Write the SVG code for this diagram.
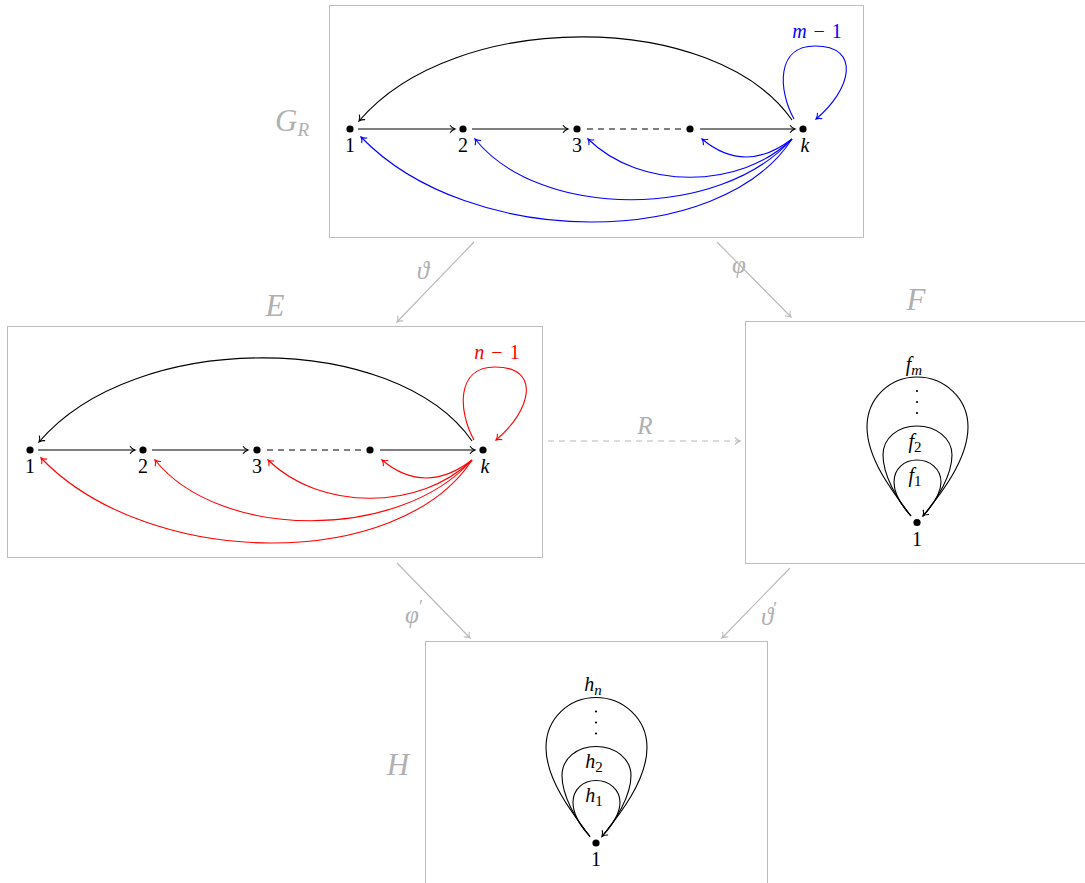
<svg xmlns="http://www.w3.org/2000/svg" width="1085" height="883" viewBox="0 0 1085 883">
<style>
.box{fill:none;stroke:#bdbdbd;stroke-width:1}
.t{font-family:"Liberation Serif","DejaVu Serif",serif;font-size:20px;text-anchor:middle;fill:#000}
.i{font-style:italic}
.g{fill:#b0b0b0;font-size:31px;font-style:italic}
.gs{fill:#b0b0b0;font-size:25px;font-style:italic}
.e{fill:none;stroke:#000;stroke-width:1.1}
.blue{stroke:#0000ff}
.red{stroke:#ff0000}
.gray{fill:none;stroke:#b8b8b8;stroke-width:1.1}
.dash{stroke-dasharray:6,5}
.dot{fill:#000}
</style>
<defs>
<marker id="ab" viewBox="-6 -5 8 10" refX="0" refY="0" markerWidth="8" markerHeight="10" markerUnits="userSpaceOnUse" orient="auto"><path d="M-5,-3.8 C-3.5,-1.6 -1.2,-0.4 0,0 C-1.2,0.4 -3.5,1.6 -5,3.8" fill="none" stroke="#000" stroke-width="1.1"/></marker>
<marker id="abl" viewBox="-6 -5 8 10" refX="0" refY="0" markerWidth="8" markerHeight="10" markerUnits="userSpaceOnUse" orient="auto"><path d="M-5,-3.8 C-3.5,-1.6 -1.2,-0.4 0,0 C-1.2,0.4 -3.5,1.6 -5,3.8" fill="none" stroke="#0000ff" stroke-width="1.1"/></marker>
<marker id="ar" viewBox="-6 -5 8 10" refX="0" refY="0" markerWidth="8" markerHeight="10" markerUnits="userSpaceOnUse" orient="auto"><path d="M-5,-3.8 C-3.5,-1.6 -1.2,-0.4 0,0 C-1.2,0.4 -3.5,1.6 -5,3.8" fill="none" stroke="#ff0000" stroke-width="1.1"/></marker>
<marker id="ag" viewBox="-6 -5 8 10" refX="0" refY="0" markerWidth="8" markerHeight="10" markerUnits="userSpaceOnUse" orient="auto"><path d="M-5,-3.8 C-3.5,-1.6 -1.2,-0.4 0,0 C-1.2,0.4 -3.5,1.6 -5,3.8" fill="none" stroke="#b8b8b8" stroke-width="1.1"/></marker>
</defs>
<rect width="1085" height="883" fill="#fff"/>

<!-- Box G_R -->
<g id="box-GR">
<rect class="box" x="329.5" y="5.5" width="534" height="232"/>
<text class="t g" x="292" y="131">G<tspan font-size="19" dy="5">R</tspan></text>
<g id="GR-n1"><circle class="dot" cx="350" cy="129" r="3.6"/><text class="t" x="350" y="152">1</text></g>
<g id="GR-n2"><circle class="dot" cx="463" cy="129" r="3.6"/><text class="t" x="463" y="152">2</text></g>
<g id="GR-n3"><circle class="dot" cx="577" cy="129" r="3.6"/><text class="t" x="577" y="152">3</text></g>
<g id="GR-n4"><circle class="dot" cx="690" cy="129" r="3.6"/></g>
<g id="GR-nk"><circle class="dot" cx="803" cy="129" r="3.6"/><text class="t i" x="805" y="152">k</text></g>
<text class="t" x="817" y="38" style="fill:#0000ff"><tspan class="i">m</tspan> <tspan dx="2">−</tspan> <tspan dx="2">1</tspan></text>
</g>

<!-- Box E -->
<g id="box-E">
<rect class="box" x="7.5" y="326.5" width="535" height="231"/>
<text class="t g" x="275" y="316">E</text>
<g id="E-n1"><circle class="dot" cx="30" cy="450" r="3.6"/><text class="t" x="30" y="473">1</text></g>
<g id="E-n2"><circle class="dot" cx="143" cy="450" r="3.6"/><text class="t" x="143" y="473">2</text></g>
<g id="E-n3"><circle class="dot" cx="257" cy="450" r="3.6"/><text class="t" x="257" y="473">3</text></g>
<g id="E-n4"><circle class="dot" cx="370" cy="450" r="3.6"/></g>
<g id="E-nk"><circle class="dot" cx="483" cy="450" r="3.6"/><text class="t i" x="485" y="473">k</text></g>
<text class="t" x="497" y="359" style="fill:#ff0000"><tspan class="i">n</tspan> <tspan dx="2">−</tspan> <tspan dx="2">1</tspan></text>
</g>

<!-- Box F -->
<g id="box-F">
<rect class="box" x="745.5" y="321.5" width="345" height="242"/>
<text class="t g" x="916" y="310">F</text>
<g id="F-n1"><circle class="dot" cx="917" cy="522.5" r="3.6"/><text class="t" x="917" y="546">1</text></g>
<text class="t i" x="914" y="371">f<tspan font-size="15" dy="4" font-style="italic">m</tspan></text>
<circle class="dot" cx="917" cy="391" r="1.1"/><circle class="dot" cx="917" cy="402" r="1.1"/><circle class="dot" cx="917" cy="413" r="1.1"/>
<text class="t i" x="915" y="448">f<tspan font-size="15" dy="4" font-style="normal">2</tspan></text>
<text class="t i" x="915" y="482">f<tspan font-size="15" dy="4" font-style="normal">1</tspan></text>
</g>

<!-- Box H -->
<g id="box-H">
<rect class="box" x="425.5" y="641.5" width="342" height="250"/>
<text class="t g" x="398" y="775">H</text>
<g id="H-n1"><circle class="dot" cx="596" cy="843" r="3.6"/><text class="t" x="596" y="866">1</text></g>
<text class="t i" x="593" y="691">h<tspan font-size="15" dy="4" font-style="italic">n</tspan></text>
<circle class="dot" cx="596" cy="711.5" r="1.1"/><circle class="dot" cx="596" cy="722.5" r="1.1"/><circle class="dot" cx="596" cy="733.5" r="1.1"/>
<text class="t i" x="594" y="768">h<tspan font-size="15" dy="4" font-style="normal">2</tspan></text>
<text class="t i" x="594" y="802">h<tspan font-size="15" dy="4" font-style="normal">1</tspan></text>
</g>

<!-- Map labels -->
<g id="map-labels">
<text class="t gs" x="423" y="279">ϑ</text>
<text class="t gs" x="739" y="273">φ</text>
<text class="t gs" x="645" y="434" font-style="italic">R</text>
<text class="t gs" x="414" y="623">φ<tspan font-size="18" dy="-10" font-style="normal">′</tspan></text>
<text class="t gs" x="769" y="625">ϑ<tspan font-size="18" dy="-10" font-style="normal">′</tspan></text>
</g>

<g id="connectors">
<!-- G_R -->
<path class="e" d="M358,129 L455,129" marker-end="url(#ab)"/>
<path class="e" d="M472,129 L568,129" marker-end="url(#ab)"/>
<path class="e dash" d="M587,129 L682,129"/>
<path class="e" d="M700,129 L795,129" marker-end="url(#ab)"/>
<path class="e" d="M792,120 C715,10 455,8 359,121" marker-end="url(#ab)"/>
<path class="e blue" d="M794,119 C778,90 776,46 815,46 C862,46 851,90 816,119" marker-end="url(#abl)"/>
<path class="e blue" d="M792,139 Q745,175 702,139" marker-end="url(#abl)"/>
<path class="e blue" d="M792,139 C740,190 640,190 588,139" marker-end="url(#abl)"/>
<path class="e blue" d="M792,139 C720,220 540,220 475,139" marker-end="url(#abl)"/>
<path class="e blue" d="M792,139 C720,250 470,250 361,137" marker-end="url(#abl)"/>
<!-- E -->
<g transform="translate(-320,321)">
<path class="e" d="M358,129 L455,129" marker-end="url(#ab)"/>
<path class="e" d="M472,129 L568,129" marker-end="url(#ab)"/>
<path class="e dash" d="M587,129 L682,129"/>
<path class="e" d="M700,129 L795,129" marker-end="url(#ab)"/>
<path class="e" d="M792,120 C715,10 455,8 359,121" marker-end="url(#ab)"/>
<path class="e red" d="M794,119 C778,90 776,46 815,46 C862,46 851,90 816,119" marker-end="url(#ar)"/>
<path class="e red" d="M792,139 Q745,175 702,139" marker-end="url(#ar)"/>
<path class="e red" d="M792,139 C740,190 640,190 588,139" marker-end="url(#ar)"/>
<path class="e red" d="M792,139 C720,220 540,220 475,139" marker-end="url(#ar)"/>
<path class="e red" d="M792,139 C720,250 470,250 361,137" marker-end="url(#ar)"/>
</g>
<!-- F loops -->
<path class="e" d="M911,516 C895,495 867,460 867,427 C867,398 890,377 917,377 C944,377 968,398 968,427 C968,460 940,495 923,516" marker-end="url(#ab)"/>
<path class="e" d="M911,516 C897,500 883,475 883,455 C883,438 898,426 917,426 C936,426 952,438 952,455 C952,475 937,500 923,516"/>
<path class="e" d="M911,516 C900,504 894,492 894,482 C894,469 904,460 917,460 C930,460 941,469 941,482 C941,492 934,504 923,516"/>
<!-- H loops -->
<g transform="translate(-321,320.5)">
<path class="e" d="M911,516 C895,495 867,460 867,427 C867,398 890,377 917,377 C944,377 968,398 968,427 C968,460 940,495 923,516" marker-end="url(#ab)"/>
<path class="e" d="M911,516 C897,500 883,475 883,455 C883,438 898,426 917,426 C936,426 952,438 952,455 C952,475 937,500 923,516"/>
<path class="e" d="M911,516 C900,504 894,492 894,482 C894,469 904,460 917,460 C930,460 941,469 941,482 C941,492 934,504 923,516"/>
</g>
<!-- gray maps -->
<path class="gray" d="M474,242 L397,322" marker-end="url(#ag)"/>
<path class="gray" d="M717,242 L791,317" marker-end="url(#ag)"/>
<path class="gray dash" d="M548,441 L740,441" marker-end="url(#ag)"/>
<path class="gray" d="M397,563 L470,638" marker-end="url(#ag)"/>
<path class="gray" d="M790,568 L722,638" marker-end="url(#ag)"/>
</g>
</svg>
